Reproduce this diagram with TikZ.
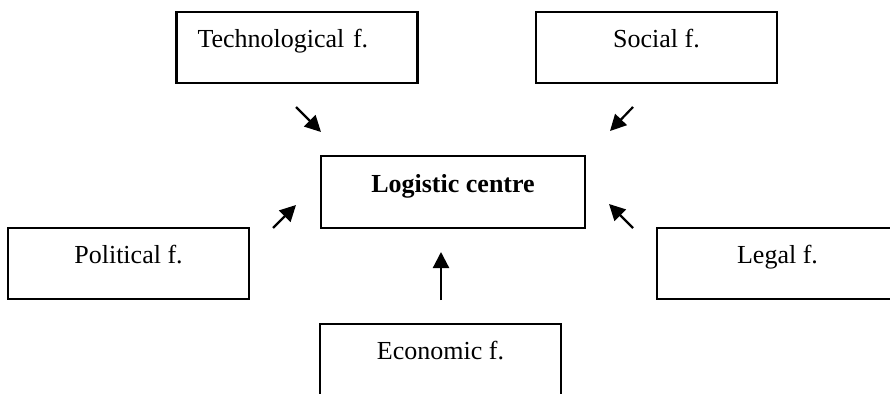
\documentclass[tikz,border=0pt]{standalone}
\usepackage{fontspec}
\setmainfont{Liberation Serif}
\usetikzlibrary{arrows.meta}

\begin{document}
\begin{tikzpicture}[
                    x=1pt, y=-1pt,
                    every node/.style={
                        font=\fontsize{26}{31}\selectfont,
                        text height=8pt,
                        text depth=8pt
                    },
                    factor/.style={
                        draw,
                        line width=2.2pt,
                        minimum width=241pt,
                        minimum height=71pt,
                        inner sep=0pt
                    },
                    centre/.style={
                        factor,
                        minimum width=264pt,
                        minimum height=72pt,
                        font=\fontsize{26}{31}\selectfont\bfseries
                    },
                    influence/.style={
                        line width=2.2pt,
                        -{Triangle[length=16pt,width=16pt]}
                    }
                ]
                    \useasboundingbox (0,0) rectangle (890,393);
                    % logistic centre and its factors
                    \node[centre] (logistic) at (453,192) {Logistic centre};
                    \node[factor, text width=199pt, inner xsep=21pt, align=left] (techno) at (297,47.5) {Technological f.};
                    \node[factor] (social) at (656.5,47.5) {Social f.};
                    \node[factor] (political) at (128.5,263.5) {Political f.};
                    \node[factor] (legal) at (777.5,263.5) {Legal f.};
                    \node[factor] (economic) at (440.5,359.5) {Economic f.};
                    % arrows towards the centre
                    \coordinate (techno-a) at (296,107);
                    \coordinate (techno-b) at (321,132);
                    \coordinate (social-a) at (633,107);
                    \coordinate (social-b) at (610,131);
                    \coordinate (political-a) at (273,228);
                    \coordinate (political-b) at (296,205);
                    \coordinate (legal-a) at (633,228);
                    \coordinate (legal-b) at (609,204);
                    \coordinate (economic-a) at (441,300);
                    \coordinate (economic-b) at (441,252);
                    \foreach \f in {techno,social,political,legal,economic}
                        \draw[influence] (\f-a) -- (\f-b);
                \end{tikzpicture}
\end{document}
